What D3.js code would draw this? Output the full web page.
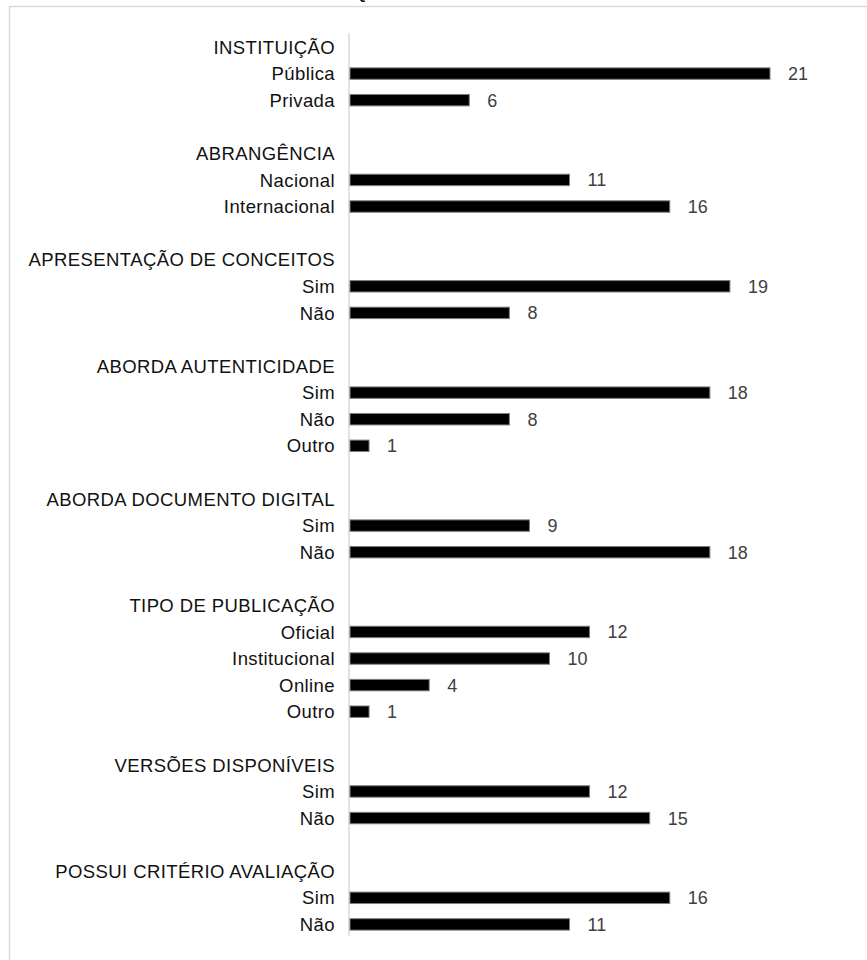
<!DOCTYPE html>
<html>
<head>
<meta charset="utf-8">
<script src="https://cdn.jsdelivr.net/npm/d3@7"></script>
<style>
  body { margin: 0; background: #fff; }
  text { font-family: "Liberation Sans", Arial, sans-serif; }
</style>
</head>
<body>
<svg id="mychart" width="867" height="960"></svg>
<script>
// categories, labels and counts
const groups = [
  "INSTITUIÇÃO",
  "ABRANGÊNCIA",
  "APRESENTAÇÃO DE CONCEITOS",
  "ABORDA AUTENTICIDADE",
  "ABORDA DOCUMENTO DIGITAL",
  "TIPO DE PUBLICAÇÃO",
  "VERSÕES DISPONÍVEIS",
  "POSSUI CRITÉRIO AVALIAÇÃO",
];
const items = [
  ["Pública", "Privada"],
  ["Nacional", "Internacional"],
  ["Sim", "Não"],
  ["Sim", "Não", "Outro"],
  ["Sim", "Não"],
  ["Oficial", "Institucional", "Online", "Outro"],
  ["Sim", "Não"],
  ["Sim", "Não"],
];
const values = [
  [21, 6],
  [11, 16],
  [19, 8],
  [18, 8, 1],
  [9, 18],
  [12, 10, 4, 1],
  [12, 15],
  [16, 11],
];

// flatten into rows: header, items, blank spacer
const rows = [];
groups.forEach((g, i) => {
  rows.push({ id: "h" + i, label: g, value: null });
  items[i].forEach((it, j) => {
    rows.push({ id: i + "-" + j, label: it, value: values[i][j] });
  });
  if (i < groups.length - 1) rows.push({ id: "b" + i, label: "", value: null });
});

const svg = d3.select("#mychart");

// frame (only top and left edges show)
svg.append("line")
  .attr("x1", 9).attr("x2", 867).attr("y1", 6.5).attr("y2", 6.5)
  .attr("stroke", "#d9d9d9").attr("stroke-width", 1.5);
svg.append("line")
  .attr("x1", 9.5).attr("x2", 9.5).attr("y1", 6).attr("y2", 960)
  .attr("stroke", "#d9d9d9").attr("stroke-width", 1.5);

// clipped title fragment at top
svg.append("text")
  .attr("x", 352).attr("y", -2)
  .attr("font-size", 20)
  .attr("fill", "#000")
  .text("Q");

const x = d3.scaleLinear().domain([0, 21]).range([349, 770]);
const y = d3.scaleBand()
  .domain(rows.map((d) => d.id))
  .range([33.7, 937.7])
  .paddingInner(0.57)
  .paddingOuter(0.285);

// axis line
svg.append("line")
  .attr("x1", x(0)).attr("x2", x(0))
  .attr("y1", 33).attr("y2", 936)
  .attr("stroke", "#d9d9d9").attr("stroke-width", 1.5);

const bars = rows.filter((d) => d.value !== null);

svg.selectAll(".bar")
  .data(bars)
  .join("rect")
  .attr("class", "bar")
  .attr("x", x(0) + 1)
  .attr("y", (d) => y(d.id))
  .attr("width", (d) => x(d.value) - x(0) - 1)
  .attr("height", y.bandwidth())
  .attr("fill", "#000")
  .attr("stroke", "#7f7f7f")
  .attr("stroke-width", 1);

svg.selectAll(".value")
  .data(bars)
  .join("text")
  .attr("class", "value")
  .attr("x", (d) => x(d.value) + 18)
  .attr("y", (d) => y(d.id) + y.bandwidth() / 2)
  .attr("dy", "0.36em")
  .attr("font-size", 18)
  .attr("fill", "#404040")
  .text((d) => d.value);

svg.selectAll(".label")
  .data(rows.filter((d) => d.label))
  .join("text")
  .attr("class", "label")
  .attr("x", 335)
  .attr("y", (d) => y(d.id) + y.bandwidth() / 2)
  .attr("dy", "0.36em")
  .attr("text-anchor", "end")
  .attr("font-size", 18.5)
  .attr("letter-spacing", 0.4)
  .attr("fill", "#111")
  .text((d) => d.label);
</script>
</body>
</html>
